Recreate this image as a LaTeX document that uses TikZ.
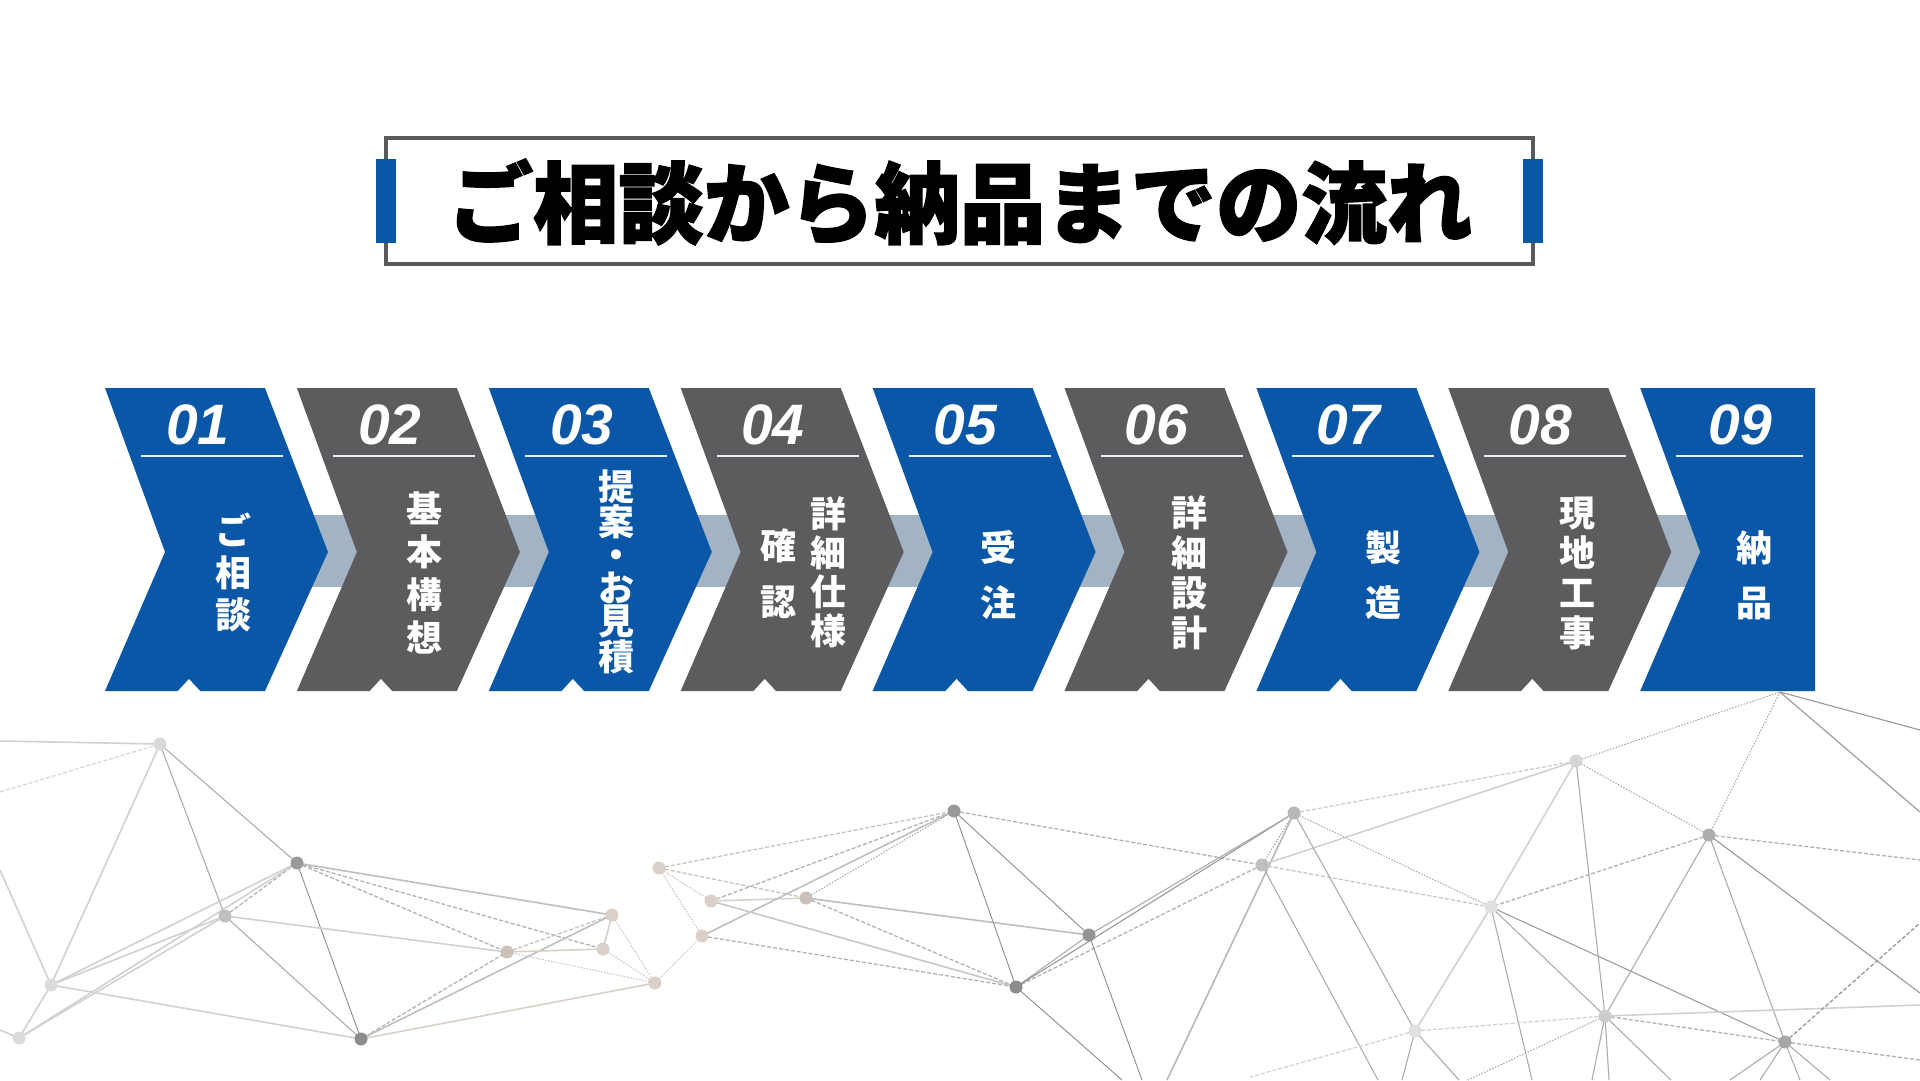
\documentclass[tikz,border=0pt]{standalone}
\usepackage{fontspec}
\newfontfamily\cjk{Noto Sans CJK JP}
\newfontfamily\cjktitle{Noto Sans CJK JP}[BoldFeatures={FakeBold=2}]
\newfontfamily\numfont{Liberation Sans}
\definecolor{cblue}{HTML}{0A57A7}
\definecolor{cgray}{HTML}{5C5C5E}
\definecolor{cband}{HTML}{A2B4C4}
\definecolor{cframe}{HTML}{5A5A5C}
\definecolor{ctan}{HTML}{D9D1C9}
\definecolor{ctand}{HTML}{C9C1BA}
\tikzset{
  nd/.style={draw=black!45, line width=0.9pt},
  nm/.style={draw=black!32, line width=1.1pt},
  nl/.style={draw=black!18, line width=1.6pt},
  nds/.style={draw=black!30, line width=1.3pt, dash pattern=on 4pt off 2pt},
  ndt/.style={draw=black!35, line width=1pt, dash pattern=on 1.5pt off 1.5pt},
  ntl/.style={draw=ctan, line width=1.6pt},
  nts/.style={draw=ctand, line width=1.3pt, dash pattern=on 4pt off 2pt},
  ntt/.style={draw=ctand, line width=1pt, dash pattern=on 1.5pt off 1.5pt},
  numlbl/.style={text=white, font=\numfont\bfseries\itshape\fontsize{57}{57}\selectfont, inner sep=0pt},
  uline/.style={draw=white!90!cblue, line width=2pt},
  vlbl/.style={text=white, align=center, inner sep=0pt, font=\cjk\bfseries\fontsize{36}{#1}\selectfont},
  titlebox/.style={draw=cframe, line width=4pt, fill=white},
  sidebar/.style={fill=cblue},
}
\begin{document}
\begin{tikzpicture}[x=1pt,y=-1pt]
\useasboundingbox (0,0) rectangle (1920,1080);
\fill[white] (0,0) rectangle (1920,1080);

% ---------- background network ----------
\coordinate (p1) at (160,744);
\coordinate (p2) at (297,863);
\coordinate (p3) at (225,916);
\coordinate (p4) at (51,985);
\coordinate (p5) at (19,1038);
\coordinate (p6) at (361,1039);
\coordinate (p7) at (507,952);
\coordinate (p8) at (603,949);
\coordinate (p9) at (612,915);
\coordinate (p10) at (655,983);
\coordinate (q1) at (659,868);
\coordinate (q2) at (711,901);
\coordinate (q3) at (702,936);
\coordinate (q4) at (806,898);
\coordinate (q5) at (954,811);
\coordinate (q6) at (1016,987);
\coordinate (q7) at (1089,935);
\coordinate (q8) at (1262,865);
\coordinate (q9) at (1294,813);
\coordinate (r1) at (1576,761);
\coordinate (r2) at (1491,907);
\coordinate (r3) at (1709,835);
\coordinate (r4) at (1415,1031);
\coordinate (r5) at (1605,1016);
\coordinate (r6) at (1785,1042);
\coordinate (rt) at (1780,692);
% free ends on the border
\coordinate (e1) at (0,741);
\coordinate (e2) at (0,792);
\coordinate (e3) at (0,870);
\coordinate (e4) at (0,1030);
\coordinate (e5) at (1122,1080);
\coordinate (e6) at (1142,1080);
\coordinate (e7) at (1167,1080);
\coordinate (e8) at (1378,1080);
\coordinate (e9) at (1920,812);
\coordinate (e10) at (1920,860);
\coordinate (e11) at (1920,993);
\coordinate (e12) at (1532,1080);
\coordinate (e13) at (1250,1077);
\coordinate (e14) at (1402,1080);
\coordinate (e15) at (1459,1080);
\coordinate (e16) at (1592,1080);
\coordinate (e17) at (1609,1080);
\coordinate (e18) at (1671,1080);
\coordinate (e19) at (1920,1005);
\coordinate (e20) at (1468,1080);
\coordinate (e21) at (1920,923);
\coordinate (e22) at (1730,1080);
\coordinate (e23) at (1760,1080);
\coordinate (e24) at (1800,1080);
\coordinate (e25) at (1830,1080);
\coordinate (e26) at (1920,730);
\coordinate (e27) at (1920,1060);

% left cluster
\draw[nl] (e1) -- (p1);
\draw[nds,draw=black!15] (e2) -- (p1);
\draw[nl] (p1) -- (p4);
\draw[nm] (p1) -- (p2);
\draw[nm] (p1) -- (p3);
\draw[nds] (p3) -- (p2);
\draw[nd] (p2) -- (p6);
\draw[nm] (p3) -- (p6);
\draw[nds] (p2) -- (p7);
\draw[nl,draw=black!25] (p2) -- (p9);
\draw[nds] (p2) -- (p8);
\draw[nl] (p3) -- (p7);
\draw[nl] (p4) -- (p2);
\draw[nl] (p4) -- (p3);
\draw[nl] (p4) -- (p5);
\draw[nl] (p4) -- (e3);
\draw[nl] (p5) -- (p3);
\draw[nl] (p5) -- (p2);
\draw[nl] (p5) -- (e4);
\draw[nl] (p4) -- (p6);
\draw[nds] (p6) -- (p7);
\draw[nl,draw=black!25] (p6) -- (p9);
\draw[ntl] (p6) -- (p10);
\draw[nts] (p7) -- (p9);
\draw[ntl] (p7) -- (p8);
\draw[ntt] (p7) -- (p10);
\draw[ntl] (p9) -- (p8);
\draw[ntt] (p9) -- (p10);
\draw[ntt] (p8) -- (p10);
% middle cluster
\draw[nts] (q1) -- (q5);
\draw[ntt] (q1) -- (q2);
\draw[ntt] (q1) -- (q3);
\draw[nts] (q1) -- (q4);
\draw[ntt] (p10) -- (q3);
\draw[ntl] (q2) -- (q4);
\draw[nds] (q2) -- (q5);
\draw[nl,draw=black!25] (q3) -- (q5);
\draw[nds] (q3) -- (q6);
\draw[nl,draw=black!22] (q2) -- (q6);
\draw[nds] (q4) -- (q6);
\draw[nl,draw=black!25] (q4) -- (q7);
\draw[ndt] (q4) -- (q5);
\draw[nd] (q5) -- (q6);
\draw[nd] (q5) -- (q7);
\draw[nds] (q5) -- (q8);
\draw[nm] (q6) -- (q7);
\draw[nds] (q6) -- (q8);
\draw[nm,draw=black!40] (q6) -- (q9);
\draw[nm] (q7) -- (q9);
\draw[nd] (q6) -- (e5);
\draw[nd] (q7) -- (e6);
\draw[nl,draw=black!28] (q9) -- (e7);
\draw[ndt] (q9) -- (q8);
% right cluster
\draw[nds,draw=black!20] (q9) -- (r1);
\draw[nl] (q8) -- (r1);
\draw[ndt] (q9) -- (r2);
\draw[nds,draw=black!22] (q8) -- (r2);
\draw[nm] (q8) -- (e8);
\draw[nm] (q9) -- (r4);
\draw[nl] (r1) -- (r2);
\draw[ndt] (r1) -- (r3);
\draw[nm] (r1) -- (r5);
\draw[ndt] (r1) -- (rt);
\draw[ndt] (rt) -- (r3);
\draw[nm,draw=black!40] (rt) -- (e9);
\draw[nds] (r3) -- (r2);
\draw[nds] (r3) -- (e10);
\draw[nm] (r3) -- (r5);
\draw[nm] (r3) -- (r6);
\draw[nm,draw=black!40] (r3) -- (e11);
\draw[nl] (r2) -- (r4);
\draw[nm] (r2) -- (r5);
\draw[nm,draw=black!38] (r2) -- (r6);
\draw[nm] (r2) -- (e12);
\draw[nds,draw=black!18] (r4) -- (r5);
\draw[nds,draw=black!18] (r4) -- (e13);
\draw[nm] (r4) -- (e14);
\draw[nm] (r4) -- (e15);
\draw[nds] (r5) -- (r6);
\draw[nm] (r5) -- (e16);
\draw[nm] (r5) -- (e17);
\draw[nm] (r5) -- (e18);
\draw[nl] (r5) -- (e19);
\draw[ndt] (r5) -- (e20);
\draw[nds,draw=black!40] (r6) -- (e21);
\draw[nm] (r6) -- (e22);
\draw[nm] (r6) -- (e23);
\draw[nm] (r6) -- (e24);
\draw[nm] (r6) -- (e25);
\draw[nm,draw=black!40] (rt) -- (e26);
\draw[nds] (r6) -- (e27);
% dots
\foreach \p/\c in {p1/black!15,p2/black!40,p3/black!25,p4/black!14,p5/black!14,p6/black!45,
  p7/ctand,p8/ctan,p9/ctan,p10/ctan,q1/ctan,q2/ctan,q3/ctan,q4/ctand,
  q5/black!40,q6/black!45,q7/black!42,q8/black!25,q9/black!28,
  r1/black!16,r2/black!12,r3/black!32,r4/black!12,r5/black!20,r6/black!35}
  {\fill[\c] (\p) circle (6.5);}

% ---------- band behind chevrons ----------
\fill[cband] (250,515) rectangle (1720,587);

% ---------- chevrons ----------
\foreach \i/\c in {0/cblue,1/cgray,2/cblue,3/cgray,4/cblue,5/cgray,6/cblue,7/cgray}{
  \pgfmathsetmacro\xo{105+191.9*\i}
  \fill[\c] (\xo,388) -- (\xo+160,388) -- (\xo+223,552) -- (\xo+160,691)
     -- (\xo,691) -- (\xo+60,552) -- cycle;
  \fill[white] (\xo+72,692) -- (\xo+84,679) -- (\xo+96,692) -- cycle;
}
\fill[cblue] (1640.2,388) -- (1815,388) -- (1815,691) -- (1640.2,691)
   -- (1700.2,552) -- cycle;

% ---------- numbers and rules ----------
\node[numlbl] (n1) at (198,425) {01};
\node[numlbl] (n2) at (390,425) {02};
\node[numlbl] (n3) at (582,425) {03};
\node[numlbl] (n4) at (773,425) {04};
\node[numlbl] (n5) at (965,425) {05};
\node[numlbl] (n6) at (1156,425) {06};
\node[numlbl] (n7) at (1348,425) {07};
\node[numlbl] (n8) at (1540,425) {08};
\node[numlbl] (n9) at (1740,425) {09};
\foreach \i in {0,...,7}{
  \pgfmathsetmacro\xo{105+191.9*\i}
  \draw[uline] (\xo+36,456) -- (\xo+178,456);
}
\draw[uline] (1676,456) -- (1803,456);

% ---------- vertical labels ----------
\node[vlbl=42] (t1) at (233,572) {ご\\相\\談};
\node[vlbl=43] (t2) at (424,573) {基\\本\\構\\想};
\node[vlbl=33] (t3) at (616,572) {提\\案\\・\\お\\見\\積};
\node[vlbl=39] (t4a) at (828,572) {詳\\細\\仕\\様};
\node[vlbl=56] (t4b) at (778,574) {確\\認};
\node[vlbl=55] (t5) at (998,575) {受\\注};
\node[vlbl=40] (t6) at (1189,573) {詳\\細\\設\\計};
\node[vlbl=55] (t7) at (1383,575) {製\\造};
\node[vlbl=40] (t8) at (1577,573) {現\\地\\工\\事};
\node[vlbl=55] (t9) at (1754,575) {納\\品};

% ---------- title ----------
\draw[titlebox] (386,138) rectangle (1533,264);
\fill[sidebar] (376,159) rectangle (396,243);
\fill[sidebar] (1523,159) rectangle (1543,243);
\node[font=\cjktitle\bfseries\fontsize{88}{88}\selectfont, text=black, inner sep=0pt, xscale=0.97] (title) at (960,202) {ご相談から納品までの流れ};
\end{tikzpicture}
\end{document}
